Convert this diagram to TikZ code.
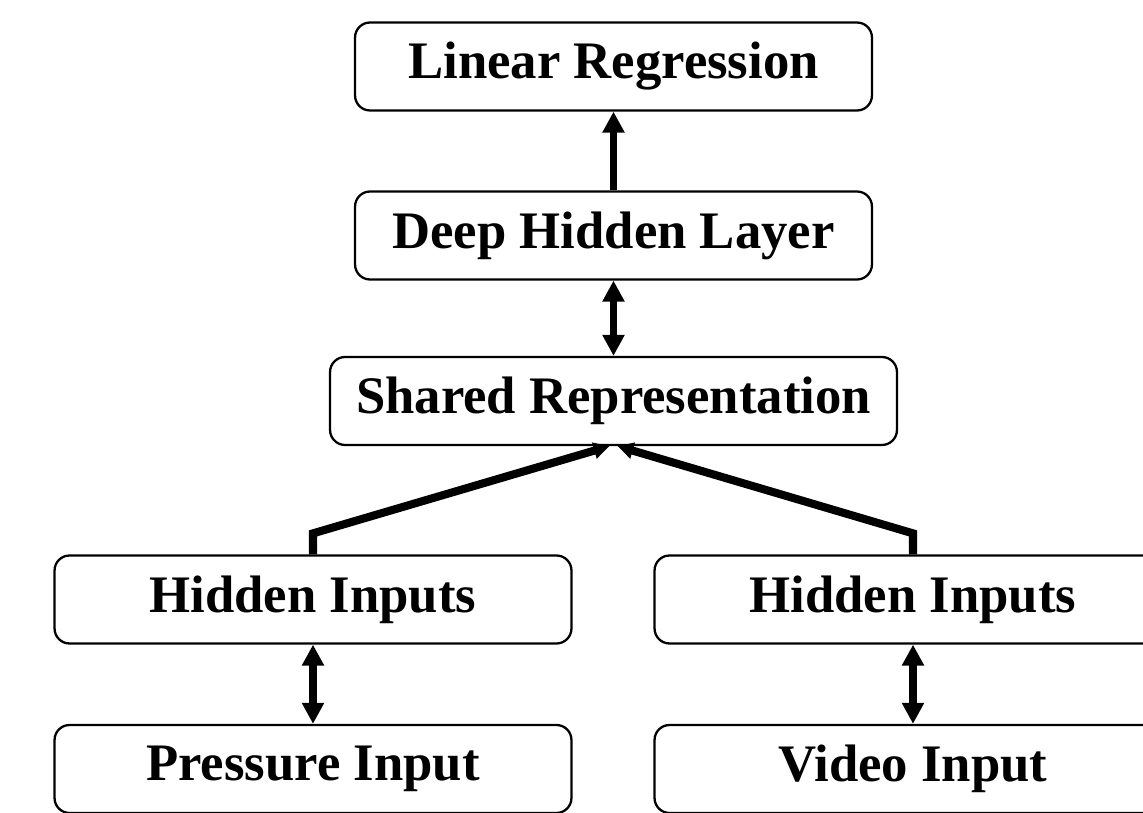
\documentclass[tikz,border=0pt]{standalone}
\usepackage{fontspec}
\setmainfont{Liberation Serif}
\usetikzlibrary{arrows.meta}
\begin{document}
\begin{tikzpicture}[x=0.02cm,y=-0.02cm,
  block/.style={draw,line width=1.3pt,rounded corners=0.3cm,inner sep=0pt,
    minimum width=10.34cm,minimum height=1.76cm,
    font=\fontsize{30}{36}\selectfont\bfseries},
  link/.style={line width=4pt,-{Triangle[length=12pt,width=12pt]}},
  merge/.style={line width=4.6pt,line join=miter,-{Triangle[length=9pt,width=9pt]}},
  both/.style={line width=4pt,{Triangle[length=12pt,width=12pt]}-{Triangle[length=12pt,width=12pt]}}]
  \useasboundingbox (0,0) rectangle (1143,813);
  \clip (0,0) rectangle (1143,813);
  % layer boxes
  \node[block] (lr) at (613.5,66.5) {\raisebox{-2pt}{Linear Regression}};
  \node[block] (dh) at (613.5,235.5) {\raisebox{-2pt}{Deep Hidden Layer}};
  \node[block,minimum width=11.34cm] (sr) at (613.5,401) {\raisebox{-2pt}{Shared Representation}};
  \node[block] (hl) at (313,599.5) {\raisebox{-2pt}{Hidden Inputs}};
  \node[block] (hr) at (913,599.5) {\raisebox{-2pt}{Hidden Inputs}};
  \node[block] (pi) at (313,769) {\raisebox{-2pt}{Pressure Input}};
  \node[block] (vi) at (913,769) {\raisebox{-2pt}{Video Input}};
  % connectors
  \draw[link] (dh.north) -- (lr.south);
  \draw[both] (sr.north) -- (dh.south);
  \draw[merge] (hl.north) -- ++(0,-21) -- ([xshift=-0.08cm]sr.south);
  \draw[merge] (hr.north) -- ++(0,-21) -- ([xshift=0.08cm]sr.south);
  \draw[both] (pi.north) -- (hl.south);
  \draw[both] (vi.north) -- (hr.south);
\end{tikzpicture}
\end{document}
